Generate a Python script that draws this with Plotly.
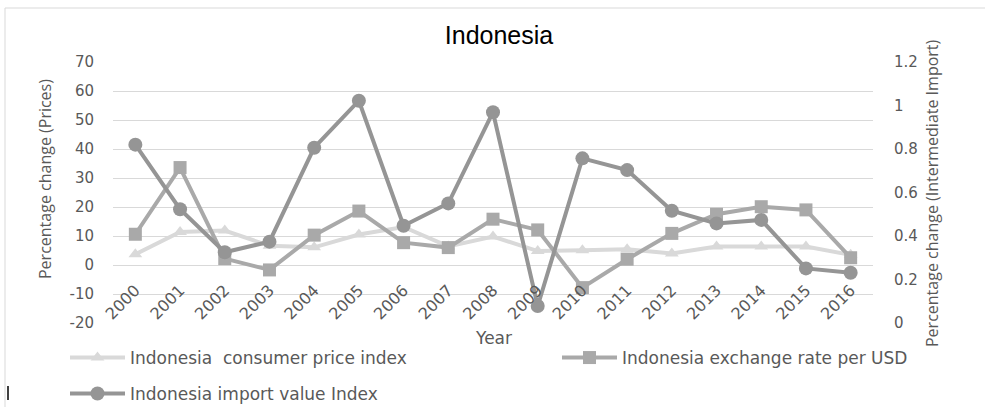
import plotly.graph_objects as go

years = [str(y) for y in range(2000, 2017)]
cpi = [3.7, 11.4, 11.9, 6.6, 6.1, 10.5, 13.1, 6.4, 9.8, 4.8, 5.1, 5.4, 4.0, 6.4, 6.4, 6.4, 3.5]
exchange = [10.6, 33.6, 2.2, -1.7, 10.3, 18.6, 7.7, 6.0, 15.8, 12.1, -7.8, 2.0, 10.9, 17.5, 20.1, 19.0, 2.5]
imports = [0.82, 0.523, 0.325, 0.374, 0.806, 1.022, 0.447, 0.55, 0.969, 0.078, 0.757, 0.703, 0.516, 0.458, 0.474, 0.251, 0.231]

left_ticks = [-20, -10, 0, 10, 20, 30, 40, 50, 60, 70]
left_labels = ["-20", "-10", "0", "10", "20", "30", "40", "50", "60", "70"]

name_cpi = "Indonesia\u00a0 consumer price index"
name_exch = "Indonesia exchange rate per USD"
name_imp = "Indonesia import value Index"

c_cpi = "#d9d9d9"
c_exch = "#a9a9a9"
c_imp = "#959595"
txt = "#595959"
ytick_font = dict(family="DejaVu Sans", size=15, color=txt)
xtick_font = dict(family="DejaVu Sans", size=16, color=txt)
leg_font = dict(family="DejaVu Sans", size=17, color=txt)

fig = go.Figure()
fig.add_trace(go.Scatter(x=years, y=cpi, name=name_cpi, mode="lines+markers",
                         line=dict(color=c_cpi, width=4),
                         marker=dict(symbol="triangle-up", size=12, color=c_cpi),
                         legend="legend"))
fig.add_trace(go.Scatter(x=years, y=exchange, name=name_exch, mode="lines+markers",
                         line=dict(color=c_exch, width=4),
                         marker=dict(symbol="square", size=13, color=c_exch),
                         legend="legend2"))
fig.add_trace(go.Scatter(x=years, y=imports, name=name_imp, mode="lines+markers",
                         line=dict(color=c_imp, width=4),
                         marker=dict(symbol="circle", size=14, color=c_imp),
                         yaxis="y2", legend="legend3"))

H0, PH = 62, 261   # plot top, plot height (px)
W0, PW = 113, 760  # plot left, plot width (px)
def px(x):
    return (x - W0) / PW
def py(y):
    return 1 - (y - H0) / PH

leg_common = dict(orientation="h", font=leg_font, itemwidth=55, bgcolor="rgba(0,0,0,0)",
                  xanchor="left", yanchor="middle")

fig.update_layout(
    width=985, height=407,
    margin=dict(l=113, r=112, t=62, b=84, autoexpand=False),
    paper_bgcolor="white", plot_bgcolor="white",
    title=dict(text="Indonesia", font=dict(family="Liberation Sans", size=25, color="black"),
               x=px(499), xref="paper", xanchor="center",
               y=1 - 35 / 407, yref="container", yanchor="middle"),
    showlegend=True,
    legend=dict(x=px(65), y=py(358), **leg_common),
    legend2=dict(x=px(557), y=py(358), **leg_common),
    legend3=dict(x=px(65), y=py(394), **leg_common),
    xaxis=dict(type="category", range=[-0.5, 16.5], showgrid=False, zeroline=False,
               showline=False, tickangle=-45, tickfont=xtick_font,
               anchor="free", position=py(277)),
    yaxis=dict(range=[-20, 70], tickvals=left_ticks, ticktext=left_labels,
               showgrid=True, gridcolor="#d9d9d9", gridwidth=1,
               zeroline=False, showline=False, tickfont=ytick_font, ticklabelstandoff=18),
    yaxis2=dict(range=[0, 1.2], dtick=0.2, overlaying="y", side="right", showgrid=False,
                zeroline=False, showline=False, tickfont=ytick_font, ticklabelstandoff=20),
    annotations=[
        dict(text="Percentage change (Prices)", textangle=-90, xref="paper", yref="paper",
             x=px(45), y=py(179), showarrow=False, xanchor="center", yanchor="middle",
             font=dict(family="Open Sans", size=16, color=txt)),
        dict(text="Percentage change (Intermediate Import)", textangle=-90, xref="paper",
             yref="paper", x=px(932), y=py(193), showarrow=False, xanchor="center",
             yanchor="middle", font=dict(family="Open Sans", size=16, color=txt)),
        dict(text="Year", xref="paper", yref="paper", x=px(493), y=py(338), showarrow=False,
             xanchor="center", yanchor="middle",
             font=dict(family="DejaVu Sans", size=17, color=txt)),
    ],
    shapes=[
        dict(type="rect", xref="paper", yref="paper", x0=px(5), x1=px(992), y0=py(412), y1=py(8),
             line=dict(color="#d9d9d9", width=1), layer="below"),
        dict(type="line", xref="paper", yref="paper", x0=px(8), x1=px(8), y0=py(386), y1=py(400),
             line=dict(color="black", width=1.5)),
    ],
)

fig.write_html("out.html")
